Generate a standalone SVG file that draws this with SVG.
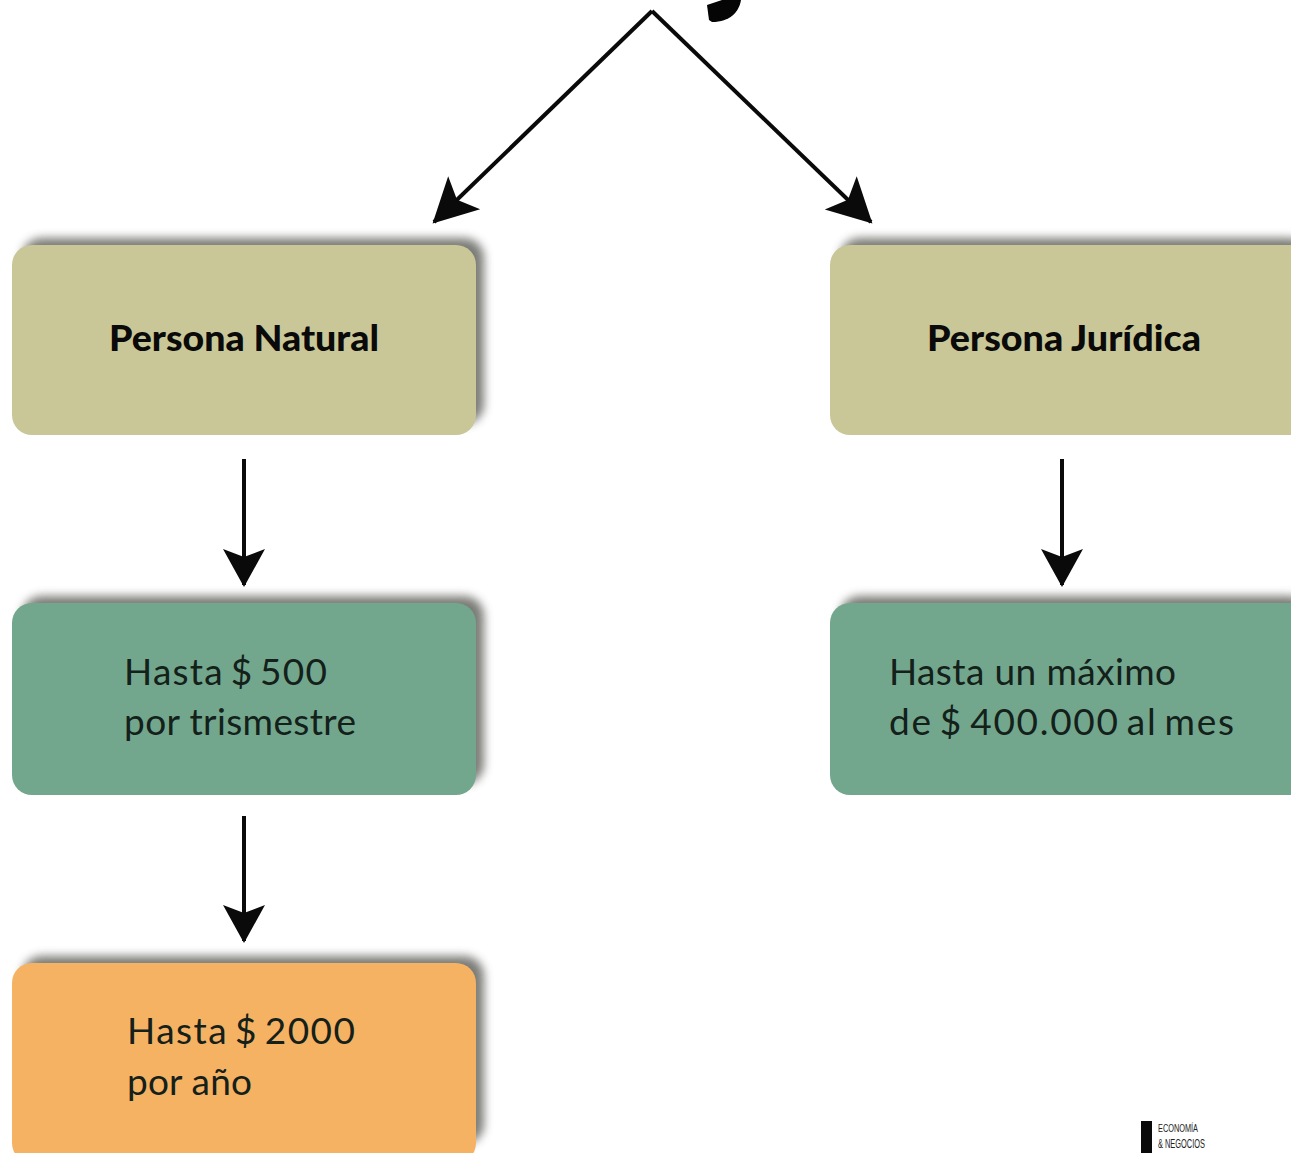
<svg xmlns="http://www.w3.org/2000/svg" width="1291" height="1153" viewBox="0 0 1291 1153">
<defs>
<filter id="sh" x="-10%" y="-15%" width="125%" height="130%"><feGaussianBlur stdDeviation="5"/></filter>
<marker id="ah" markerUnits="userSpaceOnUse" markerWidth="46" markerHeight="46" refX="38" refY="22" orient="auto" viewBox="0 0 46 46"><path d="M2 1 L40 22 L2 43 L10 22 Z" fill="#0a0a0a"/></marker>
<marker id="ahd" markerUnits="userSpaceOnUse" markerWidth="52" markerHeight="52" refX="44" refY="26" orient="auto" viewBox="0 0 52 52"><path d="M2 3 L46 26 L2 49 L12 26 Z" fill="#0a0a0a"/></marker>
</defs>
<style>
.s{fill:#5a5a54;opacity:.8;filter:url(#sh)}
.t{font-family:Lato,"Open Sans",sans-serif;font-size:37px;fill:#14201a}
.d{word-spacing:-4px}
.b{font-family:Lato,"Open Sans",sans-serif;font-size:36px;font-weight:900;fill:#0a0a0a;text-anchor:middle}
.l{stroke:#0a0a0a;fill:none;marker-end:url(#ah)}
.ld{stroke:#0a0a0a;fill:none;marker-end:url(#ahd)}
</style>
<rect width="1291" height="1153" fill="#fff"/>
<g id="connectors">
<path class="ld" stroke-width="4" d="M652 11 L434 222"/>
<path class="ld" stroke-width="4" d="M652 11 L871 222"/>
<path class="l" stroke-width="4" d="M244 459 V585"/>
<path class="l" stroke-width="4" d="M1062 459 V585"/>
<path class="l" stroke-width="4" d="M244 816 V941"/>
</g>
<g id="n1"><rect class="s" x="22" y="238" width="462" height="186" rx="20"/><rect x="12" y="245" width="464" height="190" rx="20" fill="#c9c797"/><text class="b" x="244" y="351" textLength="270" lengthAdjust="spacingAndGlyphs">Persona Natural</text></g>
<g id="n2"><rect class="s" x="840" y="238" width="470" height="186" rx="20"/><rect x="830" y="245" width="480" height="190" rx="20" fill="#c9c797"/><text class="b" x="1064" y="351" textLength="274" lengthAdjust="spacingAndGlyphs">Persona Jurídica</text></g>
<g id="n3"><rect class="s" x="22" y="596" width="462" height="188" rx="20"/><rect x="12" y="603" width="464" height="192" rx="20" fill="#72a78d"/><text class="t"><tspan class="d" x="124" y="685" textLength="203">Hasta $ 500</tspan><tspan x="124" y="735" textLength="232">por trismestre</tspan></text></g>
<g id="n4"><rect class="s" x="840" y="596" width="470" height="188" rx="20"/><rect x="830" y="603" width="480" height="192" rx="20" fill="#72a78d"/><text class="t"><tspan x="889" y="685" textLength="287">Hasta un máximo</tspan><tspan class="d" x="889" y="735" textLength="345">de $ 400.000 al mes</tspan></text></g>
<g id="n5"><rect class="s" x="22" y="956" width="462" height="188" rx="20"/><rect x="12" y="963" width="464" height="200" rx="20" fill="#f6b263"/><text class="t"><tspan class="d" x="127" y="1044" textLength="228">Hasta $ 2000</tspan><tspan x="127" y="1095" textLength="125">por año</tspan></text></g>
<path id="j-fragment" d="M707 5 L722 0 H741 C739 12 730 22 712 22 L709 20 Z" fill="#050505"/>
<g id="logo"><rect x="1141" y="1121" width="11" height="32" fill="#0a0a0a"/><text x="1158" y="1132" font-family="'Liberation Sans',sans-serif" font-size="11" fill="#222" textLength="40" lengthAdjust="spacingAndGlyphs">ECONOMÍA</text><text x="1158" y="1148" font-family="'Liberation Sans',sans-serif" font-size="13" fill="#222" textLength="47" lengthAdjust="spacingAndGlyphs">&amp; NEGOCIOS</text></g>
</svg>
